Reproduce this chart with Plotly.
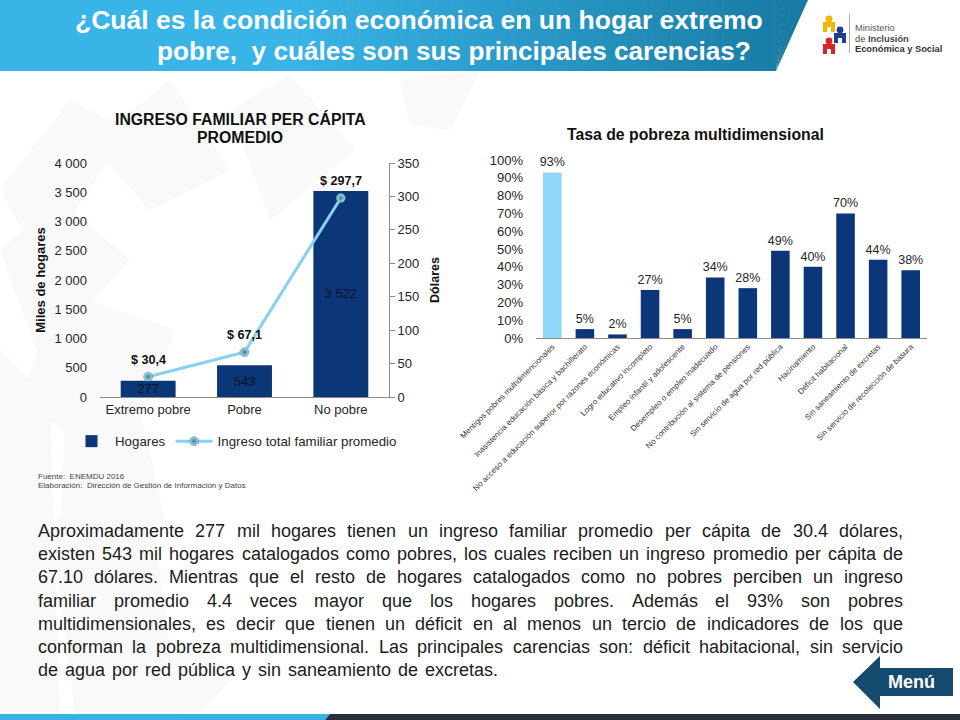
import plotly.graph_objects as go

W, H = 960, 720
# ---------- data ----------
income_cats = ["Extremo pobre", "Pobre", "No pobre"]
households = [277, 543, 3522]
income = [30.4, 67.1, 297.7]
income_labels = ["$ 30,4", "$ 67,1", "$ 297,7"]
poverty_cats = ["Mentigos pobres multidimencionales", "Inasistencia educación básica y bachillerato",
                "No acceso a educación superior por razones económicas", "Logro educativo incompleto",
                "Empleo infantil y adolescente", "Desempleo o empleo inadecuado",
                "No contribución al sistema de pensiones", "Sin servicio de agua por red pública",
                "Hacinamiento", "Déficit habitacional", "Sin saneamiento de excretas",
                "Sin servicio de recolección de basura"]
poverty_rate = [93, 5, 2, 27, 5, 34, 28, 49, 40, 70, 44, 38]
body_lines = [
    "Aproximadamente 277 mil hogares tienen un ingreso familiar promedio per cápita de 30.4 dólares,",
    "existen 543 mil hogares catalogados como pobres, los cuales reciben un ingreso promedio per cápita de",
    "67.10 dólares. Mientras que el resto de hogares catalogados como no pobres perciben un ingreso",
    "familiar promedio 4.4 veces mayor que los hogares pobres. Además el 93% son pobres",
    "multidimensionales, es decir que tienen un déficit en al menos un tercio de indicadores de los que",
    "conforman la pobreza multidimensional. Las principales carencias son: déficit habitacional, sin servicio",
    "de agua por red pública y sin saneamiento de excretas.",
]

FONT = "Liberation Sans"
NAVY = "#0b3678"
SKY = "#8fd8fa"
LINE = "#86d0f0"
GREY = "#8c8c8c"
TXT = "#262626"

def px(x): return x / W
def py(y): return 1 - y / H

def poly(pts, fill, layer="below"):
    d = "M" + " L".join(f"{px(x):.5f},{py(y):.5f}" for x, y in pts) + " Z"
    return dict(type="path", xref="paper", yref="paper", path=d, fillcolor=fill,
                line=dict(width=0), layer=layer)

def circle(cx, cy, r, fill):
    return dict(type="circle", xref="paper", yref="paper", x0=px(cx - r), x1=px(cx + r),
                y0=py(cy + r), y1=py(cy - r), fillcolor=fill, line=dict(width=0), layer="below")

def note(x, y, text, size=12, color=TXT, anchor="center", bold=False, **kw):
    return dict(xref="paper", yref="paper", x=px(x), y=py(y), text=f"<b>{text}</b>" if bold else text,
                showarrow=False, xanchor=anchor, yanchor="middle",
                font=dict(family=FONT, size=size, color=color), **kw)

shapes, notes = [], []

# watermark
for pts in [
    [(0, 190), (70, 100), (130, 130), (40, 260)],
    [(90, 145), (170, 80), (230, 170), (150, 210)],
    [(0, 250), (60, 200), (130, 260), (40, 360)],
    [(230, 110), (290, 75), (355, 150), (270, 220)],
    [(60, 290), (175, 330), (120, 470), (20, 400)],
    [(0, 350), (50, 400), (60, 720), (0, 720)],
    [(65, 420), (140, 410), (165, 520), (60, 530)],
    [(50, 520), (150, 500), (180, 715), (75, 715)],
    [(150, 640), (240, 670), (200, 712), (150, 712)],
    [(400, 80), (480, 70), (450, 130), (410, 125)],
]:
    shapes.append(poly(pts, "#f9f9f9"))

# header with gradient
c0, c1 = (56, 180, 230), (23, 122, 163)
xs0, xs1, n = 290, 810, 60
shapes.append(poly([(0, 0), (xs0 + 1, 0), (xs0 + 1, 71), (0, 71)], f"rgb{c0}"))
for i in range(n):
    a = xs0 + (xs1 - xs0) * i / n
    b = xs0 + (xs1 - xs0) * (i + 1) / n + 0.6
    t = i / (n - 1)
    col = tuple(round(c0[k] + (c1[k] - c0[k]) * t) for k in range(3))
    top_r, bot_r = min(b, 808), min(b, 776)
    bot_l = min(a, 776)
    shapes.append(poly([(a, 0), (top_r, 0), (bot_r, 71), (bot_l, 71)], f"rgb{col}"))

notes.append(note(765, 20, "¿Cuál es la condición económica en un hogar extremo", 26.5, "white", "right", True))
notes.append(note(753, 51, "pobre,  y cuáles son sus principales carencias?", 26.2, "white", "right", True))

# logo
for x, y, col in [(829, 19, "#f2b705"), (840, 30, "#1c3f8f"), (829, 41, "#d8232a")]:
    shapes.append(circle(x, y, 3.4, col))
    shapes.append(poly([(x - 6, y + 3), (x + 6, y + 3), (x + 6, y + 13), (x + 2, y + 13), (x + 2, y + 8),
                        (x - 2, y + 8), (x - 2, y + 13), (x - 6, y + 13)], col))
shapes.append(poly([(849.2, 14), (850, 14), (850, 53), (849.2, 53)], "#999999"))
notes.append(note(853, 28, "Ministerio", 9.3, "#555555", "left"))
notes.append(note(853, 38.5, "de <b>Inclusión</b>", 9.3, "#444444", "left"))
notes.append(note(853, 49, "Económica y Social", 9.3, "#333333", "left", True))

# chart titles
notes.append(note(240, 119, "INGRESO FAMILIAR PER CÁPITA", 15.8, "#111111", bold=True))
notes.append(note(240, 137, "PROMEDIO", 15.8, "#111111", bold=True))
notes.append(note(695, 134, "Tasa de pobreza multidimensional", 15.8, "#111111", bold=True))

# source
notes.append(note(36, 476, "Fuente:  ENEMDU 2016", 8, "#444444", "left"))
notes.append(note(36, 485, "Elaboración:  Dirección de Gestión de Información y Datos", 8, "#444444", "left"))

# line value labels (data anchored)
for cat, val, lab in zip(income_cats, income, income_labels):
    notes.append(dict(xref="x", yref="y2", x=cat, y=val, text=f"<b>{lab}</b>", showarrow=False,
                      yshift=17, font=dict(family=FONT, size=12.6, color="#111111")))

# justified paragraph: one text item per word, Arial metrics
WID = dict(zip("abcdefghijklmnopqrstuvwxyz",
               [556, 556, 500, 556, 556, 278, 556, 556, 222, 222, 500, 222, 833, 556, 556, 556, 556, 333, 500,
                278, 556, 500, 722, 500, 500, 500]))
WID.update({"A": 667, "M": 833, "L": 556, ".": 278, ",": 278, ":": 278, "%": 889,
            "á": 556, "é": 556, "í": 278, "ó": 556, "ú": 556})
WID.update({d: 556 for d in "0123456789"})
def word_w(w, size): return sum(WID.get(c, 556) for c in w) * size / 1000

BODY = 18
LEFT, RIGHT, LAST_RIGHT = 36, 901, 496
for i, line in enumerate(body_lines):
    words = line.split(" ")
    y = 531 + i * 23.17
    widths = [word_w(w, BODY) for w in words]
    end = RIGHT if i < len(body_lines) - 1 else LAST_RIGHT
    gap = (end - LEFT - sum(widths)) / (len(words) - 1)
    x = LEFT
    for w, wd in zip(words, widths):
        notes.append(note(x, y, w, BODY, "#1c1c1c", "left"))
        x += wd + gap

# menu button and footer
shapes.append(poly([(853, 682), (880, 656), (880, 668), (953, 668), (953, 696), (880, 696), (880, 709)],
                   "#144a6e"))
notes.append(note(911, 682, "Menú", 18, "white", bold=True))
shapes.append(poly([(0, 714), (330, 714), (325, 720), (0, 720)], "#35b3e4"))
shapes.append(poly([(330, 714), (960, 714), (960, 720), (325, 720)], "#2a2d3a"))

fig = go.Figure()
fig.add_trace(go.Bar(x=income_cats, y=households, name="Hogares", marker_color=NAVY, width=0.57,
                     text=[f"{v:,}".replace(",", " ") for v in households], textposition="inside",
                     insidetextanchor="middle", constraintext="none",
                     textfont=dict(family=FONT, size=13, color="#081426"), xaxis="x", yaxis="y"))
fig.add_trace(go.Scatter(x=income_cats, y=income, name="Ingreso total familiar promedio", mode="lines+markers",
                         line=dict(color=LINE, width=3),
                         marker=dict(size=9, color="#a9dcef",
                                     gradient=dict(type="radial", color="#3d7f96"),
                                     line=dict(width=0.5, color="#3d7f96")),
                         xaxis="x", yaxis="y2"))
fig.add_trace(go.Bar(x=poverty_cats, y=poverty_rate, showlegend=False, width=0.57,
                     marker_color=[SKY] + [NAVY] * (len(poverty_rate) - 1),
                     text=[f"{v}%" for v in poverty_rate], textposition="outside", cliponaxis=False,
                     constraintext="none",
                     textfont=dict(family=FONT, size=12.5, color=TXT), xaxis="x2", yaxis="y3"))

tick = dict(family=FONT, size=13, color=TXT)
fig.update_layout(
    template="none",
    width=W, height=H, autosize=False, margin=dict(l=0, r=0, t=0, b=0, autoexpand=False),
    paper_bgcolor="white", plot_bgcolor="rgba(0,0,0,0)", separators=", ",
    font=dict(family=FONT, color=TXT), bargap=0.43,
    shapes=shapes, annotations=notes,
    legend=dict(orientation="h", x=px(68), y=py(426), xanchor="left", yanchor="top", itemwidth=37,
                font=dict(family=FONT, size=13.3, color=TXT), bgcolor="rgba(0,0,0,0)"),
    xaxis=dict(domain=[px(100), px(389)], anchor="y", showline=True, linecolor=GREY, ticks="",
               showgrid=False, automargin=False, tickfont=tick, fixedrange=True),
    yaxis=dict(domain=[py(397), py(163)], range=[0, 4000], dtick=500, tickformat=",d", showgrid=False,
               zeroline=False, showline=False, ticks="", ticklen=0, tickfont=tick, automargin=False,
               ticklabelstandoff=12,
               title=dict(text="<b>Miles de hogares</b>", font=dict(family=FONT, size=13, color="#111111"),
                          standoff=5)),
    yaxis2=dict(domain=[py(397), py(163)], range=[0, 350], dtick=50, overlaying="y", side="right", anchor="x",
                showgrid=False, zeroline=False, showline=True, linecolor=GREY, ticks="outside", ticklen=5,
                tickcolor=GREY, tickfont=tick, automargin=False,
                title=dict(text="<b>Dólares</b>", font=dict(family=FONT, size=12.5, color="#111111"), standoff=11)),
    xaxis2=dict(domain=[px(536), px(927)], anchor="y3", showline=True, linecolor=GREY, ticks="", showgrid=False,
                automargin=False, tickangle=-45, tickfont=dict(family=FONT, size=8, color="#333333"),
                fixedrange=True),
    yaxis3=dict(domain=[py(338), py(160)], range=[0, 100], dtick=10, ticksuffix="%", anchor="x2",
                showgrid=False, zeroline=False, showline=False, ticks="", tickfont=tick, automargin=False,
                ticklabelstandoff=12),
)
fig.write_html("out.html", config=dict(displayModeBar=False),
               post_script="document.body.style.margin='0';")
